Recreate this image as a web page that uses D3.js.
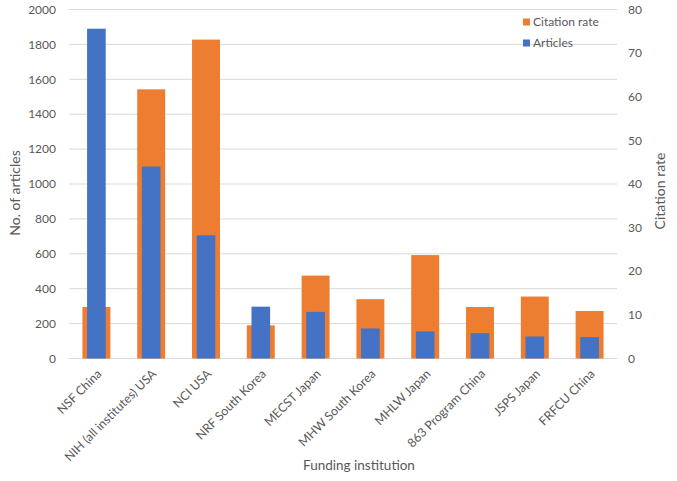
<!DOCTYPE html>
<html>
<head>
<meta charset="utf-8">
<script src="https://cdn.jsdelivr.net/npm/d3@7"></script>
<style>
  body { margin: 0; background: #fff; }
  text { font-family: Lato, "Open Sans", sans-serif; fill: #595959; }
</style>
</head>
<body>
<svg id="chart" width="677" height="481"></svg>
<script>
// data
const institutions = ["NSF China", "NIH (all institutes) USA", "NCI USA", "NRF South Korea",
  "MECST Japan", "MHW South Korea", "MHLW Japan", "863 Program China", "JSPS Japan", "FRFCU China"];
const articles = [1890, 1100, 706, 297, 267, 172, 155, 145, 126, 122];
const citationRate = [11.8, 61.7, 73.1, 7.6, 19.0, 13.6, 23.7, 11.8, 14.2, 10.9];
const leftTicks = [0, 200, 400, 600, 800, 1000, 1200, 1400, 1600, 1800, 2000];
const rightTicks = [0, 10, 20, 30, 40, 50, 60, 70, 80];

const orange = "#ED7D31";
const blue = "#4472C4";

const svg = d3.select("#chart");
const margin = { top: 9.5, right: 60, bottom: 122.5, left: 69 };
const width = 677 - margin.left - margin.right;
const height = 481 - margin.top - margin.bottom;

const g = svg.append("g").attr("transform", `translate(${margin.left},${margin.top})`);

const x = d3.scaleBand().domain(institutions).range([0, width]);
const yLeft = d3.scaleLinear().domain([0, 2000]).range([height, 0]);
const yRight = d3.scaleLinear().domain([0, 80]).range([height, 0]);

// gridlines
g.selectAll(".grid")
  .data(leftTicks)
  .join("line")
  .attr("x1", 0).attr("x2", width)
  .attr("y1", d => yLeft(d)).attr("y2", d => yLeft(d))
  .attr("stroke", "#d9d9d9").attr("stroke-width", 1);

// citation rate bars (behind)
const wideW = x.bandwidth() * 0.51;
g.selectAll(".cite")
  .data(institutions)
  .join("rect")
  .attr("x", d => x(d) + x.bandwidth() / 2 - wideW / 2)
  .attr("width", wideW)
  .attr("y", (d, i) => yRight(citationRate[i]))
  .attr("height", (d, i) => height - yRight(citationRate[i]))
  .attr("fill", orange);

// article bars (front)
const narrowW = x.bandwidth() * 0.34;
g.selectAll(".art")
  .data(institutions)
  .join("rect")
  .attr("x", d => x(d) + x.bandwidth() / 2 - narrowW / 2)
  .attr("width", narrowW)
  .attr("y", (d, i) => yLeft(articles[i]))
  .attr("height", (d, i) => height - yLeft(articles[i]))
  .attr("fill", blue);

// left axis labels
g.selectAll(".lt")
  .data(leftTicks)
  .join("text")
  .attr("x", -13)
  .attr("y", d => yLeft(d))
  .attr("dy", "0.35em")
  .attr("text-anchor", "end")
  .style("font-size", "12px")
  .text(d => d);

// right axis labels
g.selectAll(".rt")
  .data(rightTicks)
  .join("text")
  .attr("x", width + 11)
  .attr("y", d => yRight(d))
  .attr("dy", "0.35em")
  .style("font-size", "12px")
  .text(d => d);

// category labels
g.selectAll(".cat")
  .data(institutions)
  .join("text")
  .attr("transform", d => `translate(${x(d) + x.bandwidth() / 2 + 3},${height + 13}) rotate(-45)`)
  .attr("text-anchor", "end")
  .attr("dy", "0.35em")
  .style("font-size", "12.3px")
  .text(d => d);

// axis titles
svg.append("text")
  .attr("transform", "translate(20,193) rotate(-90)")
  .attr("text-anchor", "middle")
  .style("font-size", "14px")
  .text("No. of articles");

svg.append("text")
  .attr("transform", "translate(665,191) rotate(-90)")
  .attr("text-anchor", "middle")
  .style("font-size", "14px")
  .text("Citation rate");

svg.append("text")
  .attr("x", 359)
  .attr("y", 470)
  .attr("text-anchor", "middle")
  .style("font-size", "13.5px")
  .text("Funding institution");

// legend
const legendItems = [["Citation rate", orange], ["Articles", blue]];
const legend = svg.selectAll(".legend")
  .data(legendItems)
  .join("g")
  .attr("transform", (d, i) => `translate(523,${22 + i * 21})`);
legend.append("rect")
  .attr("x", 0).attr("y", -3.5)
  .attr("width", 7).attr("height", 7)
  .attr("fill", d => d[1]);
legend.append("text")
  .attr("x", 10)
  .attr("dy", "0.35em")
  .style("font-size", "12px")
  .text(d => d[0]);
</script>
</body>
</html>
